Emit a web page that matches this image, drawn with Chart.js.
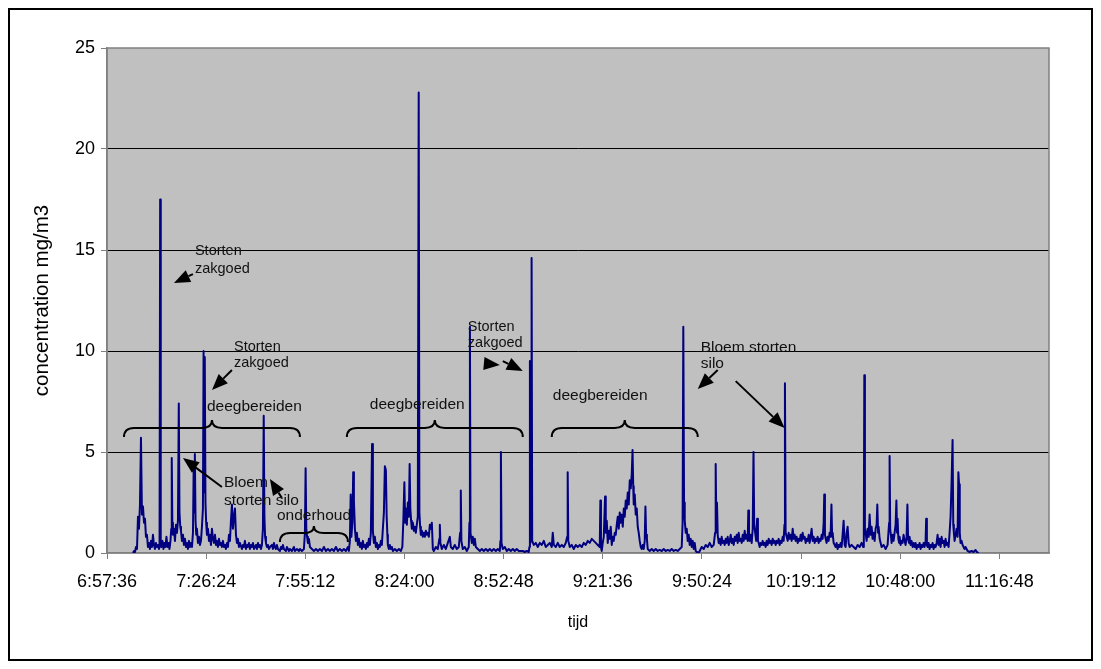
<!DOCTYPE html>
<html>
<head>
<meta charset="utf-8">
<script src="https://cdn.jsdelivr.net/npm/chart.js@4.4.0/dist/chart.umd.min.js"></script>
<style>
    html, body { margin: 0; padding: 0; background: #fff; }
</style>
</head>
<body>
<canvas id="stof-chart" width="1101" height="669"></canvas>
<script>
// tick labels of the time axis (Excel time of day)
var tickLabels = ['6:57:36', '7:26:24', '7:55:12', '8:24:00', '8:52:48', '9:21:36', '9:50:24', '10:19:12', '10:48:00', '11:16:48']
var axisStart = '6:57:36'
var axisEnd = '11:31:12'

// measurement times, as fraction of a day
var tijd = [
    0.29524, 0.29545, 0.29565, 0.29585, 0.29605, 0.29625, 0.29645, 0.29665, 0.29685, 0.29705,
    0.29726, 0.29746, 0.29766, 0.29786, 0.29806, 0.29826, 0.29846, 0.29867, 0.29887, 0.29907,
    0.29927, 0.29947, 0.29968, 0.29988, 0.30008, 0.30028, 0.30048, 0.30060, 0.30072, 0.30084,
    0.30098, 0.30118, 0.30139, 0.30159, 0.30179, 0.30199, 0.30219, 0.30239, 0.30260, 0.30280,
    0.30296, 0.30306, 0.30318, 0.30330, 0.30351, 0.30371, 0.30391, 0.30411, 0.30431, 0.30448,
    0.30462, 0.30478, 0.30492, 0.30512, 0.30532, 0.30552, 0.30573, 0.30593, 0.30613, 0.30633,
    0.30653, 0.30673, 0.30693, 0.30714, 0.30734, 0.30748, 0.30760, 0.30772, 0.30786, 0.30800,
    0.30814, 0.30834, 0.30855, 0.30875, 0.30895, 0.30915, 0.30935, 0.30948, 0.30960, 0.30972,
    0.30986, 0.31000, 0.31016, 0.31036, 0.31057, 0.31077, 0.31097, 0.31117, 0.31138, 0.31158,
    0.31178, 0.31198, 0.31218, 0.31238, 0.31258, 0.31278, 0.31298, 0.31318, 0.31339, 0.31359,
    0.31379, 0.31399, 0.31419, 0.31440, 0.31460, 0.31480, 0.31500, 0.31520, 0.31540, 0.31561,
    0.31581, 0.31601, 0.31621, 0.31641, 0.31661, 0.31681, 0.31722, 0.31742, 0.31762, 0.31782,
    0.31802, 0.31823, 0.31843, 0.31863, 0.31883, 0.31903, 0.31923, 0.31944, 0.31964, 0.31984,
    0.32004, 0.32024, 0.32045, 0.32065, 0.32085, 0.32105, 0.32125, 0.32145, 0.32161, 0.32175,
    0.32189, 0.32206, 0.32226, 0.32246, 0.32266, 0.32286, 0.32327, 0.32347, 0.32367, 0.32387,
    0.32407, 0.32427, 0.32447, 0.32488, 0.32508, 0.32528, 0.32548, 0.32568, 0.32609, 0.32629,
    0.32669, 0.32689, 0.32730, 0.32770, 0.32790, 0.32830, 0.32871, 0.32891, 0.32931, 0.32972,
    0.32992, 0.33006, 0.33020, 0.33036, 0.33052, 0.33073, 0.33093, 0.33133, 0.33174, 0.33214,
    0.33254, 0.33294, 0.33335, 0.33375, 0.33415, 0.33456, 0.33496, 0.33536, 0.33577, 0.33617,
    0.33657, 0.33697, 0.33738, 0.33778, 0.33818, 0.33859, 0.33879, 0.33899, 0.33915, 0.33929,
    0.33949, 0.33966, 0.33980, 0.34000, 0.34020, 0.34040, 0.34060, 0.34080, 0.34101, 0.34121,
    0.34141, 0.34161, 0.34181, 0.34202, 0.34222, 0.34242, 0.34262, 0.34282, 0.34302, 0.34322,
    0.34346, 0.34363, 0.34383, 0.34403, 0.34423, 0.34443, 0.34464, 0.34484, 0.34504, 0.34524,
    0.34544, 0.34564, 0.34585, 0.34605, 0.34625, 0.34641, 0.34655, 0.34665, 0.34685, 0.34705,
    0.34725, 0.34746, 0.34766, 0.34806, 0.34846, 0.34887, 0.34927, 0.34957, 0.34977, 0.34998,
    0.35014, 0.35028, 0.35048, 0.35068, 0.35088, 0.35104, 0.35118, 0.35134, 0.35148, 0.35169,
    0.35189, 0.35209, 0.35229, 0.35249, 0.35269, 0.35287, 0.35301, 0.35316, 0.35330, 0.35350,
    0.35370, 0.35391, 0.35411, 0.35431, 0.35451, 0.35471, 0.35491, 0.35512, 0.35532, 0.35552,
    0.35572, 0.35592, 0.35633, 0.35673, 0.35703, 0.35713, 0.35725, 0.35753, 0.35794, 0.35834,
    0.35874, 0.35915, 0.35935, 0.35975, 0.36015, 0.36056, 0.36096, 0.36122, 0.36136, 0.36148,
    0.36176, 0.36217, 0.36257, 0.36297, 0.36310, 0.36320, 0.36332, 0.36358, 0.36378, 0.36399,
    0.36419, 0.36439, 0.36479, 0.36520, 0.36560, 0.36600, 0.36641, 0.36681, 0.36721, 0.36761,
    0.36802, 0.36842, 0.36882, 0.36923, 0.36935, 0.36945, 0.36957, 0.36983, 0.37024, 0.37064,
    0.37104, 0.37144, 0.37185, 0.37225, 0.37265, 0.37306, 0.37346, 0.37386, 0.37427, 0.37467,
    0.37507, 0.37520, 0.37530, 0.37540, 0.37554, 0.37564, 0.37576, 0.37608, 0.37649, 0.37689,
    0.37729, 0.37770, 0.37810, 0.37850, 0.37891, 0.37931, 0.37971, 0.37991, 0.38012, 0.38052,
    0.38092, 0.38132, 0.38173, 0.38213, 0.38253, 0.38282, 0.38292, 0.38304, 0.38334, 0.38374,
    0.38415, 0.38455, 0.38495, 0.38536, 0.38576, 0.38616, 0.38657, 0.38697, 0.38737, 0.38778,
    0.38818, 0.38858, 0.38899, 0.38939, 0.38951, 0.38963, 0.38979, 0.38999, 0.39020, 0.39046,
    0.39060, 0.39080, 0.39100, 0.39120, 0.39140, 0.39160, 0.39181, 0.39201, 0.39221, 0.39241,
    0.39261, 0.39282, 0.39302, 0.39322, 0.39342, 0.39362, 0.39382, 0.39403, 0.39423, 0.39443,
    0.39463, 0.39483, 0.39504, 0.39524, 0.39544, 0.39564, 0.39584, 0.39600, 0.39614, 0.39624,
    0.39644, 0.39665, 0.39685, 0.39705, 0.39725, 0.39745, 0.39765, 0.39786, 0.39806, 0.39826,
    0.39846, 0.39860, 0.39874, 0.39890, 0.39906, 0.39947, 0.39987, 0.40027, 0.40068, 0.40108,
    0.40148, 0.40189, 0.40229, 0.40269, 0.40310, 0.40350, 0.40390, 0.40431, 0.40471, 0.40511,
    0.40552, 0.40592, 0.40610, 0.40624, 0.40639, 0.40653, 0.40673, 0.40693, 0.40713, 0.40733,
    0.40753, 0.40773, 0.40794, 0.40814, 0.40834, 0.40854, 0.40874, 0.40895, 0.40935, 0.40955,
    0.40995, 0.41036, 0.41076, 0.41116, 0.41156, 0.41197, 0.41237, 0.41265, 0.41277, 0.41289,
    0.41303, 0.41318, 0.41338, 0.41358, 0.41378, 0.41398, 0.41418, 0.41439, 0.41459, 0.41479,
    0.41499, 0.41519, 0.41540, 0.41560, 0.41580, 0.41600, 0.41620, 0.41640, 0.41661, 0.41681,
    0.41701, 0.41721, 0.41741, 0.41761, 0.41781, 0.41802, 0.41822, 0.41842, 0.41862, 0.41882,
    0.41903, 0.41923, 0.41935, 0.41949, 0.41963, 0.41983, 0.42003, 0.42024, 0.42040, 0.42054,
    0.42074, 0.42094, 0.42113, 0.42129, 0.42145, 0.42164, 0.42184, 0.42205, 0.42225, 0.42245,
    0.42265, 0.42285, 0.42305, 0.42326, 0.42346, 0.42366, 0.42386, 0.42406, 0.42427, 0.42447,
    0.42467, 0.42487, 0.42507, 0.42528, 0.42548, 0.42567, 0.42587, 0.42608, 0.42628, 0.42648,
    0.42664, 0.42674, 0.42688, 0.42709, 0.42729, 0.42749, 0.42769, 0.42789, 0.42809, 0.42830,
    0.42850, 0.42870, 0.42890, 0.42910, 0.42931, 0.42951, 0.42971, 0.42991, 0.43011, 0.43031,
    0.43052, 0.43072, 0.43092, 0.43112, 0.43132, 0.43153, 0.43172, 0.43192, 0.43212, 0.43233,
    0.43253, 0.43273, 0.43293, 0.43313, 0.43333, 0.43354, 0.43374, 0.43394, 0.43414, 0.43434,
    0.43455, 0.43467, 0.43481, 0.43495, 0.43515, 0.43535, 0.43555, 0.43575, 0.43595, 0.43612,
    0.43626, 0.43636, 0.43656, 0.43676, 0.43696, 0.43716, 0.43737, 0.43757, 0.43777, 0.43797,
    0.43817, 0.43837, 0.43858, 0.43878, 0.43898, 0.43918, 0.43938, 0.43959, 0.43979, 0.44019,
    0.44059, 0.44100, 0.44140, 0.44180, 0.44220, 0.44251, 0.44265, 0.44275, 0.44287, 0.44301,
    0.44321, 0.44341, 0.44362, 0.44382, 0.44402, 0.44422, 0.44442, 0.44463, 0.44483, 0.44503,
    0.44523, 0.44537, 0.44553, 0.44563, 0.44584, 0.44604, 0.44624, 0.44664, 0.44705, 0.44745,
    0.44775, 0.44785, 0.44797, 0.44815, 0.44825, 0.44846, 0.44866, 0.44886, 0.44906, 0.44922,
    0.44936, 0.44946, 0.44962, 0.44977, 0.44987, 0.45007, 0.45027, 0.45047, 0.45067, 0.45088,
    0.45108, 0.45128, 0.45144, 0.45158, 0.45178, 0.45188, 0.45208, 0.45228, 0.45249, 0.45269,
    0.45289, 0.45309, 0.45329, 0.45350, 0.45370, 0.45390, 0.45410, 0.45430, 0.45450, 0.45471,
    0.45491, 0.45511, 0.45523, 0.45537, 0.45551, 0.45571, 0.45592, 0.45612, 0.45632, 0.45652,
    0.45672, 0.45692, 0.45713, 0.45733, 0.45753, 0.45773, 0.45793, 0.45813, 0.45834, 0.45854,
    0.45874, 0.45894, 0.45914, 0.45934, 0.45955, 0.45975, 0.45995, 0.46015, 0.46035, 0.46055,
    0.46069, 0.46081, 0.46096, 0.46116, 0.46136, 0.46156, 0.46172, 0.46186, 0.46200, 0.46216,
    0.46237, 0.46257, 0.46277, 0.46297, 0.46317, 0.46358, 0.46398, 0.46438, 0.46479, 0.46519,
    0.46559, 0.46580
]

// concentration mg/m3 at those times
var concentratie = [
    0.0, 0.1, 0.05, 0.3, 0.2, 1.8, 1.2, 2.4, 5.7, 1.9,
    2.3, 1.5, 1.7, 0.8, 0.9, 0.3, 0.5, 0.2, 0.6, 0.3,
    0.9, 0.4, 0.2, 0.5, 0.3, 0.4, 0.2, 0.3, 17.5, 0.4,
    0.3, 0.6, 0.2, 0.5, 0.3, 0.8, 0.3, 0.5, 0.2, 0.6,
    1.2, 4.7, 1.5, 0.9, 1.2, 0.6, 1.4, 1.0, 1.6, 7.4,
    2.0, 1.3, 1.1, 0.6, 0.9, 0.4, 0.7, 0.3, 0.5, 0.2,
    0.6, 0.3, 0.5, 0.3, 1.0, 4.2, 2.0, 4.9, 1.6, 0.9,
    1.2, 0.5, 0.8, 0.4, 0.6, 1.3, 2.2, 10.0, 3.0, 9.7,
    2.5, 1.5, 0.9, 1.2, 0.6, 0.9, 0.4, 1.2, 0.7, 0.5,
    0.9, 0.4, 0.6, 0.3, 0.7, 0.4, 0.5, 0.3, 0.6, 0.3,
    0.4, 0.2, 0.5, 0.3, 0.9, 0.6, 1.6, 2.4, 1.2, 1.8,
    2.2, 0.9, 0.5, 0.7, 0.3, 0.5, 0.2, 0.4, 0.3, 0.6,
    0.2, 0.4, 0.3, 0.5, 0.2, 0.4, 0.3, 0.5, 0.2, 0.3,
    0.4, 0.2, 0.5, 0.3, 0.4, 0.2, 0.4, 1.2, 6.8, 1.8,
    0.8, 0.5, 0.3, 0.4, 0.2, 0.3, 0.4, 0.2, 0.5, 0.3,
    0.2, 0.4, 0.2, 0.1, 0.3, 0.2, 0.4, 0.2, 0.1, 0.3,
    0.1, 0.2, 0.1, 0.3, 0.1, 0.2, 0.1, 0.2, 0.1, 0.2,
    1.0, 4.2, 1.2, 0.8, 0.5, 0.7, 0.3, 0.2, 0.1, 0.2,
    0.1, 0.2, 0.1, 0.3, 0.1, 0.2, 0.1, 0.2, 0.1, 0.3,
    0.1, 0.2, 0.1, 0.2, 0.1, 0.3, 0.1, 0.6, 2.9, 0.8,
    1.5, 4.0, 2.6, 1.2, 0.6, 1.0, 0.4, 0.7, 0.3, 0.5,
    0.2, 0.6, 0.3, 0.4, 0.2, 0.5, 0.3, 0.7, 0.4, 1.0,
    5.4, 1.1, 0.5, 0.8, 0.3, 0.5, 0.2, 0.4, 0.3, 0.6,
    0.4, 1.2, 2.0, 4.3, 4.1, 1.8, 0.9, 0.4, 0.2, 0.4,
    0.2, 0.3, 0.1, 0.2, 0.1, 0.2, 0.1, 0.3, 1.6, 3.5,
    1.5, 2.2, 1.4, 2.5, 1.8, 4.4, 2.2, 1.6, 1.2, 1.5,
    1.1, 1.3, 1.0, 1.4, 1.8, 22.8, 2.0, 1.3, 0.9, 1.1,
    0.8, 1.0, 0.8, 1.1, 0.9, 1.0, 0.8, 1.4, 1.2, 1.5,
    0.2, 0.1, 0.3, 0.2, 0.7, 1.4, 0.5, 0.2, 0.4, 0.2,
    0.5, 0.8, 0.3, 0.2, 0.4, 0.2, 0.3, 1.0, 3.1, 0.6,
    0.2, 0.3, 0.1, 0.3, 1.5, 11.2, 1.0, 0.5, 0.8, 0.4,
    0.7, 0.3, 0.2, 0.1, 0.2, 0.1, 0.2, 0.1, 0.2, 0.1,
    0.2, 0.1, 0.2, 0.1, 0.6, 5.0, 0.5, 0.2, 0.3, 0.1,
    0.2, 0.1, 0.2, 0.1, 0.2, 0.1, 0.1, 0.1, 0.05, 0.1,
    0.05, 0.3, 9.5, 0.5, 1.0, 14.6, 0.6, 0.4, 0.5, 0.3,
    0.5, 0.4, 0.6, 0.3, 0.4, 0.5, 0.3, 1.0, 0.4, 0.3,
    0.5, 0.3, 0.4, 0.3, 0.5, 0.8, 4.0, 0.6, 0.3, 0.4,
    0.2, 0.4, 0.3, 0.4, 0.3, 0.5, 0.4, 0.6, 0.5, 0.7,
    0.6, 0.5, 0.4, 0.3, 2.6, 0.3, 0.1, 0.5, 0.8, 2.8,
    1.0, 1.6, 0.5, 1.1, 0.7, 1.3, 0.4, 0.8, 0.6, 1.0,
    0.9, 1.4, 1.8, 1.2, 2.0, 1.5, 1.9, 1.3, 2.2, 1.8,
    2.6, 2.2, 3.0, 2.4, 3.6, 3.2, 3.9, 5.1, 3.3, 2.4,
    2.9, 1.9, 2.2, 1.3, 1.0, 0.6, 0.3, 0.2, 0.4, 0.2,
    0.6, 2.3, 0.9, 0.7, 0.2, 0.1, 0.2, 0.1, 0.2, 0.1,
    0.15, 0.1, 0.2, 0.1, 0.15, 0.1, 0.2, 0.1, 0.15, 0.1,
    0.2, 0.3, 1.5, 11.2, 2.5, 1.6, 1.0, 1.2, 0.6, 0.9,
    0.4, 0.7, 0.3, 0.6, 0.2, 0.5, 0.1, 0.05, 0.0, 0.1,
    0.3, 0.2, 0.4, 0.3, 0.5, 0.3, 0.4, 1.0, 4.4, 1.5,
    2.5, 0.9, 0.5, 0.7, 0.4, 0.8, 0.5, 0.6, 0.4, 0.7,
    0.5, 0.8, 0.4, 0.6, 0.9, 0.5, 0.7, 0.4, 0.8, 0.6,
    0.9, 0.5, 1.0, 0.6, 0.7, 0.5, 0.9, 0.6, 1.1, 0.7,
    0.9, 0.6, 2.1, 0.8, 0.6, 0.9, 0.5, 1.2, 5.0, 1.4,
    1.0, 0.6, 1.7, 0.6, 0.5, 0.3, 0.5, 0.4, 0.6, 0.4,
    0.5, 0.3, 0.6, 0.4, 0.7, 0.5, 0.6, 0.4, 0.7, 0.5,
    0.6, 0.4, 0.6, 0.5, 0.7, 0.4, 0.6, 0.5, 0.8, 0.6,
    1.4, 8.4, 1.0, 0.8, 0.6, 1.0, 0.7, 0.9, 0.6, 1.2,
    0.7, 0.9, 0.6, 0.8, 0.5, 0.7, 0.6, 0.9, 0.6, 1.0,
    0.7, 0.8, 0.5, 0.7, 0.6, 0.9, 0.5, 0.8, 1.2, 0.6,
    0.8, 0.5, 0.7, 0.6, 0.8, 0.5, 0.7, 0.6, 0.9, 0.7,
    1.5, 2.9, 0.9, 0.7, 0.5, 0.8, 0.6, 1.0, 0.8, 2.4,
    0.8, 1.0, 0.5, 0.4, 0.3, 0.5, 0.2, 0.4, 0.3, 0.5,
    0.3, 0.9, 1.6, 0.4, 0.3, 1.0, 1.3, 0.5, 0.3, 0.4,
    0.3, 0.2, 0.4, 0.3, 0.5, 0.3, 1.0, 8.8, 1.2, 1.0,
    0.6, 1.2, 0.8, 1.9, 0.9, 1.3, 0.7, 1.0, 0.6, 1.2,
    1.4, 2.4, 1.0, 1.3, 0.7, 0.5, 0.3, 0.4, 0.2, 0.4,
    1.5, 4.8, 1.2, 0.8, 0.5, 0.9, 0.6, 1.0, 1.4, 2.6,
    1.0, 1.7, 0.7, 0.5, 0.8, 0.4, 0.6, 0.5, 0.9, 0.6,
    0.4, 0.8, 2.4, 0.7, 0.5, 0.8, 0.4, 0.6, 0.3, 0.5,
    0.3, 0.5, 0.2, 0.4, 0.3, 0.5, 0.2, 0.4, 0.3, 0.5,
    0.3, 0.6, 1.7, 0.4, 0.3, 0.5, 0.2, 0.4, 0.3, 0.5,
    0.2, 0.4, 0.3, 0.5, 0.9, 0.4, 0.7, 0.3, 0.8, 0.5,
    0.6, 0.3, 0.7, 0.4, 0.5, 0.3, 1.0, 1.8, 3.5, 5.6,
    1.4, 1.0, 0.6, 0.9, 1.2, 0.8, 4.0, 3.4, 1.0, 0.5,
    0.6, 0.4, 0.3, 0.2, 0.3, 0.1, 0.05, 0.1, 0.05, 0.15,
    0.0, 0.05
]

// notes written in the plot: [text, time, concentration, font size]
var noteTexts = [
    ['Storten', 0.30774, 14.95, 14.5],
    ['zakgoed', 0.30774, 14.06, 14.5],
    ['Storten', 0.31561, 10.20, 14.5],
    ['zakgoed', 0.31561, 9.41, 14.5],
    ['deegbereiden', 0.31016, 7.23, 15.5],
    ['Bloem', 0.31359, 3.47, 15.5],
    ['storten silo', 0.31359, 2.57, 15.5],
    ['onderhoud', 0.32427, 1.83, 15.5],
    ['deegbereiden', 0.34302, 7.33, 15.5],
    ['Storten', 0.36278, 11.19, 14.5],
    ['zakgoed', 0.36278, 10.40, 14.5],
    ['deegbereiden', 0.37991, 7.77, 15.5],
    ['Bloem storten', 0.40975, 10.15, 15.5],
    ['silo', 0.40975, 9.36, 15.5]
]

// arrows: [from time, from conc, to time, to conc]
var noteArrows = [
    [0.30734, 13.81, 0.30351, 13.37],
    [0.31520, 9.06, 0.31117, 8.07],
    [0.31318, 3.27, 0.30532, 4.70],
    [0.32528, 2.72, 0.32286, 3.66],
    [0.36620, 9.38, 0.36923, 9.31],
    [0.36983, 9.50, 0.37386, 9.01],
    [0.41318, 9.06, 0.40915, 8.12],
    [0.41681, 8.51, 0.42668, 6.19]
]

// curly braces: [start time, end time, line conc, end conc, tip conc]
var noteBraces = [
    [0.29343, 0.32891, 6.19, 5.74, 6.58],
    [0.32488, 0.33859, 0.99, 0.54, 1.34],
    [0.33838, 0.37386, 6.19, 5.74, 6.58],
    [0.37971, 0.40915, 6.19, 5.74, 6.58]
]

function toDays(txt) {
    var p = txt.split(':').map(Number)
    return (p[0] * 3600 + p[1] * 60 + p[2]) / 86400
}

function toClock(d) {
    var s = Math.round(d * 86400)
    var h = Math.floor(s / 3600)
    var m = Math.floor((s % 3600) / 60)
    var sec = s % 60
    return h + ':' + String(m).padStart(2, '0') + ':' + String(sec).padStart(2, '0')
}

var tickDays = tickLabels.map(toDays)
var points = tijd.map(function (t, i) {
    return { x: t, y: concentratie[i] }
})

function drawArrow(ctx, x0, y0, x1, y1) {
    var ang = Math.atan2(y1 - y0, x1 - x0)
    var len = 16
    var half = 6.5
    var bx = x1 - len * Math.cos(ang)
    var by = y1 - len * Math.sin(ang)
    if (Math.hypot(x1 - x0, y1 - y0) > len) {
        ctx.beginPath()
        ctx.moveTo(x0, y0)
        ctx.lineTo(bx, by)
        ctx.stroke()
    }
    ctx.beginPath()
    ctx.moveTo(x1, y1)
    ctx.lineTo(bx + half * Math.sin(ang), by - half * Math.cos(ang))
    ctx.lineTo(bx - half * Math.sin(ang), by + half * Math.cos(ang))
    ctx.closePath()
    ctx.fill()
}

function drawBrace(ctx, x1, x2, yLine, yEnd, yTip) {
    var xc = (x1 + x2) / 2
    var r = 10
    ctx.beginPath()
    ctx.moveTo(x1, yEnd)
    ctx.quadraticCurveTo(x1, yLine, x1 + r, yLine)
    ctx.lineTo(xc - r, yLine)
    ctx.quadraticCurveTo(xc, yLine, xc, yTip)
    ctx.quadraticCurveTo(xc, yLine, xc + r, yLine)
    ctx.lineTo(x2 - r, yLine)
    ctx.quadraticCurveTo(x2, yLine, x2, yEnd)
    ctx.stroke()
}

var excelLook = {
    id: 'excelLook',
    beforeDraw: function (chart) {
        var ctx = chart.ctx
        var a = chart.chartArea
        ctx.save()
        ctx.fillStyle = '#ffffff'
        ctx.fillRect(0, 0, chart.width, chart.height)
        ctx.fillStyle = '#c0c0c0'
        ctx.fillRect(a.left, a.top, a.right - a.left, a.bottom - a.top)
        ctx.strokeStyle = '#000000'
        ctx.lineWidth = 2
        ctx.strokeRect(9, 9, chart.width - 18, chart.height - 18)
        ctx.restore()
    },
    beforeDatasetsDraw: function (chart) {
        var ctx = chart.ctx
        var a = chart.chartArea
        ctx.save()
        ctx.strokeStyle = '#808080'
        ctx.lineWidth = 1.5
        ctx.strokeRect(a.left, a.top, a.right - a.left, a.bottom - a.top)
        ctx.restore()
    },
    afterDatasetsDraw: function (chart) {
        var ctx = chart.ctx
        var xs = chart.scales.x
        var ys = chart.scales.y
        ctx.save()
        ctx.strokeStyle = '#000000'
        ctx.fillStyle = '#000000'
        ctx.lineWidth = 2
        noteBraces.forEach(function (b) {
            drawBrace(ctx, xs.getPixelForValue(b[0]), xs.getPixelForValue(b[1]),
                ys.getPixelForValue(b[2]), ys.getPixelForValue(b[3]), ys.getPixelForValue(b[4]))
        })
        noteArrows.forEach(function (a) {
            drawArrow(ctx, xs.getPixelForValue(a[0]), ys.getPixelForValue(a[1]),
                xs.getPixelForValue(a[2]), ys.getPixelForValue(a[3]))
        })
        ctx.fillStyle = '#111111'
        ctx.textAlign = 'left'
        ctx.textBaseline = 'middle'
        noteTexts.forEach(function (n) {
            ctx.font = n[3] + "px 'Liberation Sans', Arial, sans-serif"
            ctx.fillText(n[0], xs.getPixelForValue(n[1]), ys.getPixelForValue(n[2]))
        })
        ctx.restore()
    }
}

Chart.defaults.font.family = "'Liberation Sans', Arial, sans-serif"
Chart.defaults.color = '#000000'

var ctx = document.getElementById('stof-chart').getContext('2d')
var stofChart = new Chart(ctx, {
    type: 'line',
    data: {
        datasets: [{
            label: 'concentration',
            data: points,
            borderColor: '#000080',
            borderWidth: 2,
            borderJoinStyle: 'round',
            pointRadius: 0,
            fill: false,
            tension: 0
        }]
    },
    options: {
        responsive: false,
        animation: false,
        devicePixelRatio: 1,
        layout: {
            padding: { left: 0, right: 52, top: 48, bottom: 0 }
        },
        plugins: {
            legend: { display: false },
            tooltip: { enabled: false }
        },
        scales: {
            x: {
                type: 'linear',
                min: toDays(axisStart),
                max: toDays(axisEnd),
                afterBuildTicks: function (axis) {
                    axis.ticks = tickDays.map(function (v) { return { value: v } })
                },
                afterFit: function (scale) { scale.height = 116 },
                ticks: {
                    callback: function (v) { return toClock(v) },
                    autoSkip: false,
                    maxRotation: 0,
                    padding: 12,
                    font: { size: 18 }
                },
                grid: {
                    drawOnChartArea: false,
                    tickColor: '#808080',
                    tickLength: 6
                },
                border: { color: '#808080', width: 1.5 },
                title: {
                    display: true,
                    text: 'tijd',
                    font: { size: 16 },
                    padding: { top: 0, bottom: 37 }
                }
            },
            y: {
                min: 0,
                max: 25,
                afterFit: function (scale) { scale.width = 107 },
                ticks: {
                    stepSize: 5,
                    padding: 6,
                    font: { size: 18 }
                },
                grid: {
                    color: function (c) {
                        return (c.tick.value === 0 || c.tick.value === 25) ? 'rgba(0,0,0,0)' : '#000000'
                    },
                    tickColor: '#808080',
                    tickLength: 6,
                    lineWidth: 1
                },
                border: { color: '#808080', width: 1.5 },
                title: {
                    display: true,
                    text: 'concentration mg/m3',
                    font: { size: 20.5 },
                    padding: { top: 30, bottom: 0 }
                }
            }
        }
    },
    plugins: [excelLook]
})
</script>
</body>
</html>
